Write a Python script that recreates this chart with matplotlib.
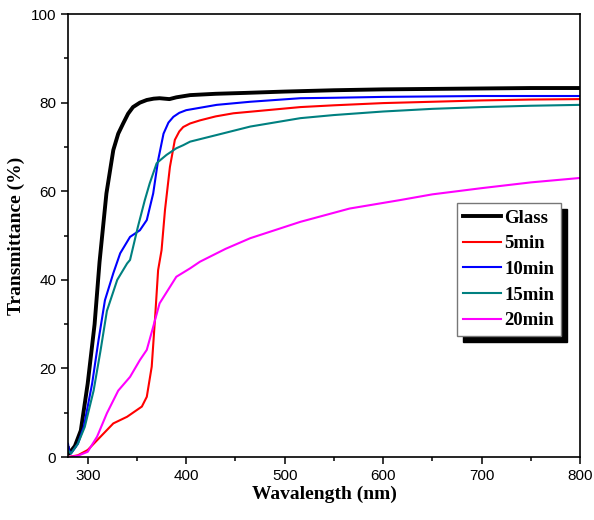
import matplotlib.pyplot as plt
from matplotlib.ticker import MultipleLocator

# wavelength (nm) / transmittance (%)
glass_wl = [280, 281, 287, 293, 300, 307, 312, 319, 326, 331, 336, 341, 346, 353, 360, 367, 373, 378, 383, 390, 404, 430, 460, 500, 550, 600, 650, 700, 750, 800]
glass_t = [2, 0.8, 2.5, 6, 16.6, 30, 44, 59.5, 69.3, 73, 75.3, 77.5, 79, 80, 80.6, 80.9, 81, 80.9, 80.8, 81.2, 81.7, 82, 82.2, 82.5, 82.8, 83, 83.1, 83.2, 83.3, 83.3]

min5_wl = [280, 290, 300, 313, 326, 340, 355, 360, 365, 368.5, 371.5, 375, 378.5, 383.5, 388.5, 393, 397, 404, 414, 430, 448, 482, 516, 550, 600, 650, 700, 750, 800]
min5_t = [0, 0.4, 1.6, 4.6, 7.6, 9.1, 11.4, 13.6, 20.4, 31.7, 42.2, 46.7, 55.8, 65.5, 71.6, 73.5, 74.5, 75.3, 76, 76.9, 77.6, 78.3, 79, 79.4, 79.9, 80.2, 80.5, 80.7, 80.8]

min10_wl = [280, 281, 283, 290, 296, 304.5, 311, 317.5, 326, 333, 343, 353, 360, 366.5, 371.5, 377, 382, 387, 393, 400, 431, 465, 516, 550, 600, 650, 700, 750, 800]
min10_t = [3, 1.5, 0.8, 3, 6.8, 16.6, 26.4, 35.4, 41.5, 46, 49.7, 51.2, 53.5, 59.5, 67, 73, 75.5, 76.8, 77.7, 78.3, 79.5, 80.2, 81, 81.1, 81.3, 81.4, 81.5, 81.5, 81.5]

min15_wl = [280, 283, 290, 297, 306, 313, 319.5, 330, 340, 343, 351, 358, 363, 370, 373.5, 380, 390, 397, 404, 431, 465, 516, 550, 600, 650, 700, 750, 800]
min15_t = [1.5, 0.8, 3, 6.8, 15, 24, 33, 40, 43.7, 44.5, 52, 58, 61.8, 66.3, 67, 68.2, 69.7, 70.4, 71.2, 72.7, 74.6, 76.5, 77.2, 78, 78.6, 79, 79.3, 79.5]

min20_wl = [280, 290, 300, 309.5, 319.5, 331, 343, 353, 360, 366.5, 373, 383.5, 390, 404, 414, 440, 465, 516, 566, 617, 650, 700, 750, 800]
min20_t = [0, 0.3, 1.2, 4.6, 9.9, 15, 18.1, 21.9, 24.2, 29.4, 34.7, 38.4, 40.7, 42.6, 44.1, 47, 49.4, 53.1, 56.1, 58, 59.3, 60.7, 62, 63]

fig = plt.figure(figsize=(5.94, 5.20), dpi=100)
ax = fig.add_axes([0.1145, 0.121, 0.862, 0.852])

ax.plot(glass_wl, glass_t, color='black', lw=2.8, label='Glass')
ax.plot(min5_wl, min5_t, color='#ff0000', lw=1.5, label='5min')
ax.plot(min10_wl, min10_t, color='#0000ff', lw=1.5, label='10min')
ax.plot(min15_wl, min15_t, color='#008080', lw=1.5, label='15min')
ax.plot(min20_wl, min20_t, color='#ff00ff', lw=1.5, label='20min')

ax.set_xlim(280, 800)
ax.set_ylim(0, 100)
ax.xaxis.set_major_locator(MultipleLocator(100))
ax.xaxis.set_minor_locator(MultipleLocator(50))
ax.yaxis.set_major_locator(MultipleLocator(20))
ax.yaxis.set_minor_locator(MultipleLocator(10))
ax.tick_params(which='both', direction='out', top=False, right=False, width=1.1)
ax.tick_params(which='major', length=5, labelsize=11)
ax.tick_params(which='minor', length=3)
for lab in ax.get_xticklabels() + ax.get_yticklabels():
    lab.set_fontfamily('Liberation Sans')
for sp in ax.spines.values():
    sp.set_linewidth(1.2)

ax.set_xlabel('Wavalength (nm)', family='Liberation Serif', weight='bold', fontsize=14, labelpad=2)
ax.set_ylabel('Transmittance (%)', family='Liberation Serif', weight='bold', fontsize=14, labelpad=4)

leg = ax.legend(loc='upper right', bbox_to_anchor=(0.963, 0.573), fancybox=False,
                shadow={'color': 'black', 'ox': 4.5, 'oy': -4.5, 'alpha': 1},
                prop={'family': 'Liberation Serif', 'weight': 'bold', 'size': 13.5},
                handlelength=2.0, handletextpad=0.2, borderpad=0.35, labelspacing=0.45,
                borderaxespad=0, framealpha=1)
leg.get_frame().set_edgecolor('#777777')
leg.get_frame().set_linewidth(1.0)

fig.savefig('out.png', dpi=100)
